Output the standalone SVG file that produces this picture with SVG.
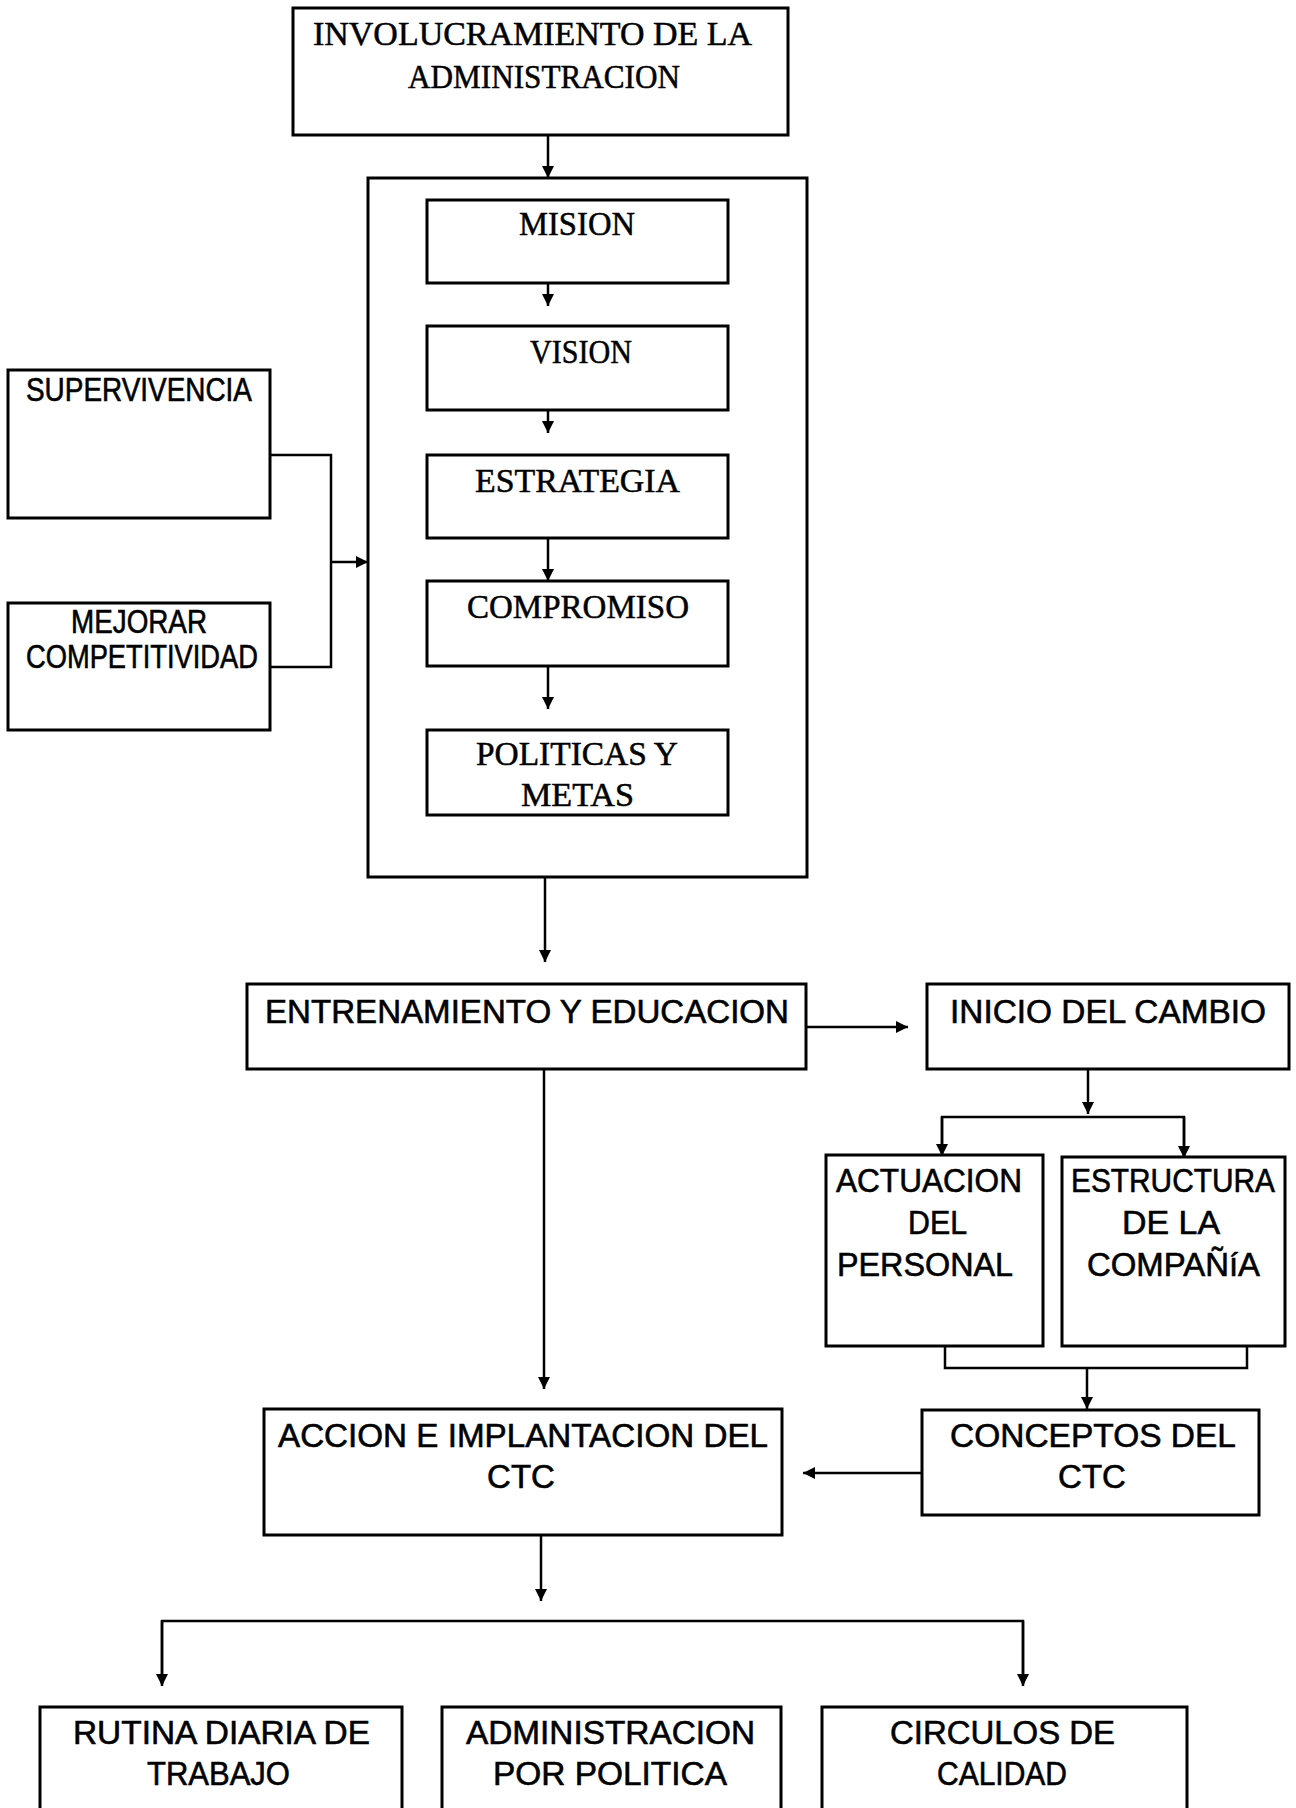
<svg xmlns="http://www.w3.org/2000/svg" width="1296" height="1808" viewBox="0 0 1296 1808">
<style>
.box{fill:#fff;stroke:#000;stroke-width:3}
.frame{fill:none;stroke:#000;stroke-width:3}
.ser{font-family:"Liberation Serif","Times New Roman",serif;font-size:33px;fill:#000;stroke:#000;stroke-width:0.5}
.san{font-family:"Liberation Sans",Arial,sans-serif;font-size:33px;fill:#000;stroke:#000;stroke-width:0.6}
.c{fill:none;stroke:#000;stroke-width:2.5}
.a{fill:none;stroke:#000;stroke-width:2.5;marker-end:url(#ah)}
</style>
<defs>
<marker id="ah" markerUnits="userSpaceOnUse" markerWidth="12" markerHeight="14" refX="12" refY="6" orient="auto" viewBox="0 0 12 12">
<path d="M0,0 L12,6 L0,12 z" fill="#000"/>
</marker>
</defs>
<rect width="1296" height="1808" fill="#fff"/>

<g id="n-container">
<rect class="frame" x="368" y="178" width="439" height="699"/>
</g>

<g id="connectors">
<line class="a" x1="548" y1="136" x2="548" y2="178"/>
<line class="a" x1="548" y1="283" x2="548" y2="306"/>
<line class="a" x1="548" y1="410" x2="548" y2="433"/>
<line class="a" x1="548" y1="538" x2="548" y2="581"/>
<line class="a" x1="548" y1="666" x2="548" y2="709"/>
<polyline class="c" points="271,455 331,455 331,667 271,667"/>
<line class="a" x1="331" y1="562" x2="368" y2="562"/>
<line class="a" x1="545" y1="878" x2="545" y2="962"/>
<line class="a" x1="806" y1="1027" x2="908" y2="1027"/>
<line class="a" x1="1088" y1="1069" x2="1088" y2="1114"/>
<polyline class="c" points="942,1155 942,1117 1184,1117 1184,1157"/>
<line class="a" x1="942" y1="1117" x2="942" y2="1156"/>
<line class="a" x1="1184" y1="1117" x2="1184" y2="1158"/>
<polyline class="c" points="945,1346 945,1368 1247,1368 1247,1346"/>
<line class="a" x1="1087" y1="1368" x2="1087" y2="1409"/>
<line class="a" x1="922" y1="1473" x2="803" y2="1473"/>
<line class="a" x1="544" y1="1069" x2="544" y2="1389"/>
<line class="a" x1="541" y1="1535" x2="541" y2="1601"/>
<polyline class="c" points="162,1684 162,1621 1023,1621 1023,1684"/>
<line class="a" x1="162" y1="1621" x2="162" y2="1686"/>
<line class="a" x1="1023" y1="1621" x2="1023" y2="1686"/>
</g>

<g id="n-involucramiento">
<rect class="box" x="293" y="8" width="495" height="127"/>
<text class="ser" x="313" y="45" textLength="439" lengthAdjust="spacingAndGlyphs">INVOLUCRAMIENTO DE LA</text>
<text class="ser" x="408" y="88" textLength="272" lengthAdjust="spacingAndGlyphs">ADMINISTRACION</text>
</g>

<g id="n-mision">
<rect class="box" x="427" y="200" width="301" height="83"/>
<text class="ser" x="519" y="235" textLength="116" lengthAdjust="spacingAndGlyphs">MISION</text>
</g>
<g id="n-vision">
<rect class="box" x="427" y="326" width="301" height="84"/>
<text class="ser" x="530" y="363" textLength="102" lengthAdjust="spacingAndGlyphs">VISION</text>
</g>
<g id="n-estrategia">
<rect class="box" x="427" y="455" width="301" height="83"/>
<text class="ser" x="475" y="492" textLength="205" lengthAdjust="spacingAndGlyphs">ESTRATEGIA</text>
</g>
<g id="n-compromiso">
<rect class="box" x="427" y="581" width="301" height="85"/>
<text class="ser" x="467" y="618" textLength="222" lengthAdjust="spacingAndGlyphs">COMPROMISO</text>
</g>
<g id="n-politicas">
<rect class="box" x="427" y="730" width="301" height="85"/>
<text class="ser" x="476" y="765" textLength="202" lengthAdjust="spacingAndGlyphs">POLITICAS Y</text>
<text class="ser" x="521" y="806" textLength="113" lengthAdjust="spacingAndGlyphs">METAS</text>
</g>

<g id="n-supervivencia">
<rect class="box" x="8" y="370" width="262" height="148"/>
<text class="san" x="26" y="401" font-size="25" textLength="226" lengthAdjust="spacingAndGlyphs">SUPERVIVENCIA</text>
</g>
<g id="n-mejorar">
<rect class="box" x="8" y="603" width="262" height="127"/>
<text class="san" x="71" y="633" font-size="25" textLength="136" lengthAdjust="spacingAndGlyphs">MEJORAR</text>
<text class="san" x="26" y="668" font-size="25" textLength="232" lengthAdjust="spacingAndGlyphs">COMPETITIVIDAD</text>
</g>

<g id="n-entrenamiento">
<rect class="box" x="247" y="984" width="559" height="85"/>
<text class="san" x="265" y="1023" font-size="35" textLength="524" lengthAdjust="spacingAndGlyphs">ENTRENAMIENTO Y EDUCACION</text>
</g>
<g id="n-inicio">
<rect class="box" x="927" y="984" width="362" height="85"/>
<text class="san" x="950" y="1023" font-size="35" textLength="316" lengthAdjust="spacingAndGlyphs">INICIO DEL CAMBIO</text>
</g>

<g id="n-actuacion">
<rect class="box" x="826" y="1155" width="217" height="191"/>
<text class="san" x="836" y="1192" font-size="32" textLength="186" lengthAdjust="spacingAndGlyphs">ACTUACION</text>
<text class="san" x="908" y="1234" font-size="32" textLength="59" lengthAdjust="spacingAndGlyphs">DEL</text>
<text class="san" x="837" y="1276" font-size="32" textLength="176" lengthAdjust="spacingAndGlyphs">PERSONAL</text>
</g>
<g id="n-estructura">
<rect class="box" x="1062" y="1157" width="223" height="189"/>
<text class="san" x="1071" y="1192" font-size="32" textLength="204" lengthAdjust="spacingAndGlyphs">ESTRUCTURA</text>
<text class="san" x="1122" y="1234" font-size="32" textLength="98" lengthAdjust="spacingAndGlyphs">DE LA</text>
<text class="san" x="1087" y="1276" font-size="32" textLength="173" lengthAdjust="spacingAndGlyphs">COMPAÑíA</text>
</g>

<g id="n-accion">
<rect class="box" x="264" y="1409" width="518" height="126"/>
<text class="san" x="278" y="1447" font-size="35" textLength="490" lengthAdjust="spacingAndGlyphs">ACCION E IMPLANTACION DEL</text>
<text class="san" x="521" y="1488" font-size="35" text-anchor="middle">CTC</text>
</g>
<g id="n-conceptos">
<rect class="box" x="922" y="1410" width="337" height="105"/>
<text class="san" x="950" y="1447" font-size="35" textLength="286" lengthAdjust="spacingAndGlyphs">CONCEPTOS DEL</text>
<text class="san" x="1092" y="1488" font-size="35" text-anchor="middle">CTC</text>
</g>

<g id="n-rutina">
<rect class="box" x="40" y="1707" width="362" height="130"/>
<text class="san" x="73" y="1744" font-size="33" textLength="297" lengthAdjust="spacingAndGlyphs">RUTINA DIARIA DE</text>
<text class="san" x="147" y="1785" font-size="33" textLength="143" lengthAdjust="spacingAndGlyphs">TRABAJO</text>
</g>
<g id="n-administracion">
<rect class="box" x="442" y="1707" width="339" height="130"/>
<text class="san" x="466" y="1744" font-size="33" textLength="289" lengthAdjust="spacingAndGlyphs">ADMINISTRACION</text>
<text class="san" x="493" y="1785" font-size="33" textLength="234" lengthAdjust="spacingAndGlyphs">POR POLITICA</text>
</g>
<g id="n-circulos">
<rect class="box" x="822" y="1707" width="365" height="130"/>
<text class="san" x="890" y="1744" font-size="33" textLength="225" lengthAdjust="spacingAndGlyphs">CIRCULOS DE</text>
<text class="san" x="937" y="1785" font-size="33" textLength="130" lengthAdjust="spacingAndGlyphs">CALIDAD</text>
</g>
</svg>
